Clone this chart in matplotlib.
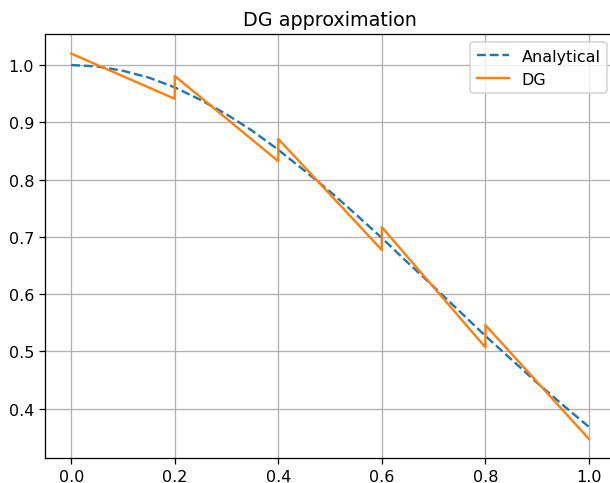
import matplotlib
matplotlib.use("Agg")
import matplotlib.pyplot as plt

# Analytical curve
x_exact = [0.0, 0.05, 0.1, 0.15, 0.2, 0.25, 0.3, 0.35, 0.4, 0.45, 0.5,
           0.55, 0.6, 0.65, 0.7, 0.75, 0.8, 0.85, 0.9, 0.95, 1.0]
y_exact = [1.0, 0.9975, 0.990, 0.978, 0.961, 0.939, 0.914, 0.885, 0.852, 0.816, 0.779,
           0.739, 0.698, 0.655, 0.613, 0.570, 0.527, 0.486, 0.445, 0.406, 0.368]

# DG piecewise-linear solution (element endpoints)
x_dg = [0.0, 0.2, 0.2, 0.4, 0.4, 0.6, 0.6, 0.8, 0.8, 1.0]
y_dg = [1.020, 0.941, 0.981, 0.832, 0.871, 0.677, 0.717, 0.507, 0.546, 0.347]

DPI = 115
W, H = 610, 484
fig = plt.figure(figsize=(W / DPI, H / DPI), dpi=DPI)
left, right, top, bottom = 45.3, 614.9, 35.3, 459.3
ax = fig.add_axes([left / W, 1 - bottom / H, (right - left) / W, (bottom - top) / H])
ax.plot(x_exact, y_exact, '--', color='#1f77b4', label='Analytical')
ax.plot(x_dg, y_dg, '-', color='#ff7f0e', label='DG')
ax.set_title('DG approximation')
ax.grid(True)
ax.legend(loc='upper right')
fig.savefig('out.png', dpi=DPI)
